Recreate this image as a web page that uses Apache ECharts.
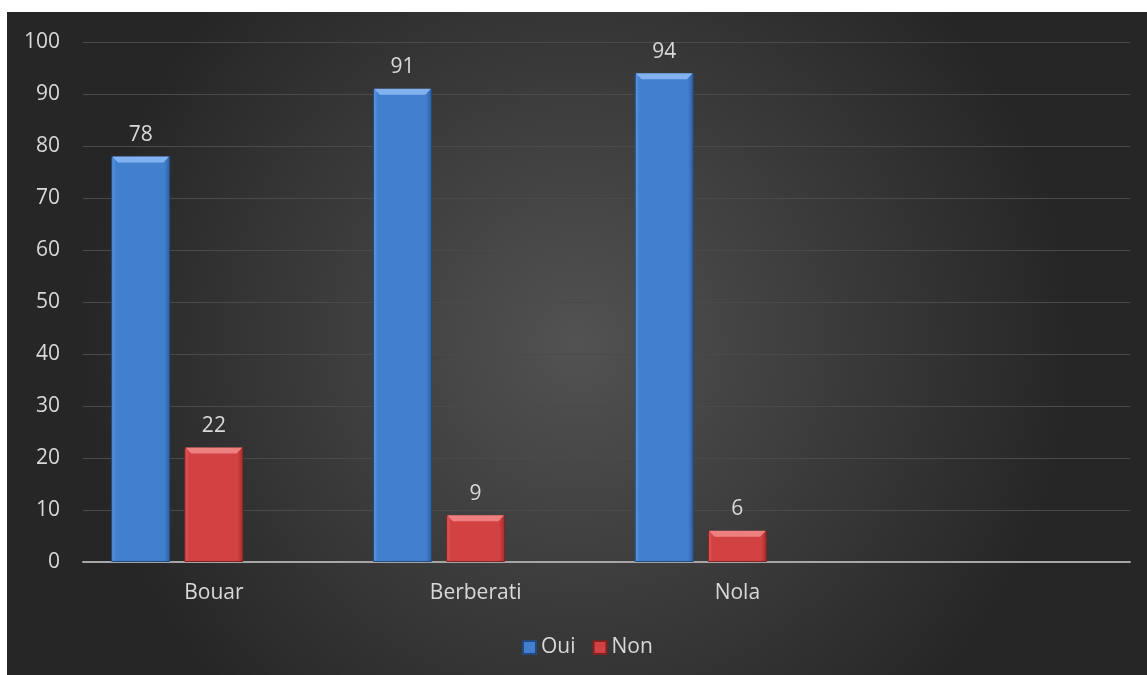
<!DOCTYPE html>
<html>
<head>
<meta charset="utf-8">
<style>
  html, body { margin: 0; padding: 0; background: #ffffff; }
  #chart { width: 1147px; height: 675px; }
</style>
<script src="https://cdn.jsdelivr.net/npm/echarts@6/dist/echarts.min.js"></script>
</head>
<body>
<div id="chart"></div>
<script>
// Survey answers per town (percent)
const categories = ['Bouar', 'Berberati', 'Nola', ''];
const oui = [78, 91, 94, null];
const non = [22, 9, 6, null];
const spare = [null, null, null, null]; // third, unused slot of each group
const yTicks = { min: 0, max: 100, interval: 10 };

const FONT = 'Open Sans';
const TEXT = '#d9d9d9';
const SIZE = 21;
const BAR_W = 59;
const GAP = '24%';

function bevelFill(light, mid, dark) {
  return {
    type: 'linear', x: 0, y: 0, x2: 1, y2: 0,
    colorStops: [
      { offset: 0, color: light },
      { offset: 0.08, color: mid },
      { offset: 0.9, color: mid },
      { offset: 1, color: dark }
    ]
  };
}

// light chamfer drawn at the top end of each bar
const bevelTop = 'path://M0,0 L59,0 L53,6 L6,6 Z';

function capSeries(name, data, color) {
  return {
    name: name + ' cap',
    type: 'pictorialBar',
    data: data,
    barWidth: BAR_W,
    barGap: GAP,
    symbol: bevelTop,
    symbolSize: [BAR_W - 2, 6],
    symbolPosition: 'end',
    symbolOffset: [0, 0],
    itemStyle: { color: color },
    silent: true,
    z: 3
  };
}

const chart = echarts.init(document.getElementById('chart'), null, { renderer: 'canvas' });

chart.setOption({
  animation: false,
  textStyle: { fontFamily: FONT },
  graphic: [{
    type: 'rect',
    z: -10,
    silent: true,
    shape: { x: 7, y: 12, width: 1140, height: 663 },
    style: {
      fill: {
        type: 'radial', x: 0.5, y: 0.5, r: 0.75,
        colorStops: [
          { offset: 0, color: '#525252' },
          { offset: 1, color: '#262626' }
        ]
      }
    }
  }],
  grid: { left: 83, right: 17, top: 42, bottom: 113, containLabel: false },
  legend: {
    bottom: 12,
    left: 517,
    itemWidth: 13,
    itemHeight: 13,
    itemGap: 17,
    textStyle: { color: TEXT, fontSize: SIZE, fontFamily: FONT, padding: [0, 0, 0, 0] },
    data: [
      { name: 'Oui', icon: 'rect' },
      { name: 'Non', icon: 'rect' }
    ]
  },
  xAxis: {
    type: 'category',
    data: categories,
    axisLine: { lineStyle: { color: '#a6a6a6', width: 2 } },
    axisTick: { show: false },
    axisLabel: { color: TEXT, fontSize: SIZE, fontFamily: FONT, margin: 21 },
    splitLine: { show: false }
  },
  yAxis: {
    type: 'value',
    min: yTicks.min,
    max: yTicks.max,
    interval: yTicks.interval,
    axisLine: { show: false },
    axisTick: { show: false },
    axisLabel: { color: TEXT, fontSize: SIZE, fontFamily: FONT, margin: 23 },
    splitLine: { lineStyle: { color: '#4a4a4a', width: 1 } }
  },
  series: [
    {
      name: 'Oui',
      type: 'bar',
      data: oui,
      barWidth: BAR_W,
      barGap: GAP,
      itemStyle: {
        color: bevelFill('#5f9ae4', '#4280cf', '#2d5d9c'),
        borderColor: '#24497e',
        borderWidth: 1
      },
      label: { show: true, position: 'top', distance: 11, color: TEXT, fontSize: SIZE, fontFamily: FONT }
    },
    {
      name: 'Non',
      type: 'bar',
      data: non,
      barWidth: BAR_W,
      barGap: GAP,
      itemStyle: {
        color: bevelFill('#e25c5c', '#d24242', '#9e2d2d'),
        borderColor: '#7e2222',
        borderWidth: 1
      },
      label: { show: true, position: 'top', distance: 11, color: TEXT, fontSize: SIZE, fontFamily: FONT }
    },
    {
      name: 'spare',
      type: 'bar',
      data: spare,
      barWidth: BAR_W,
      barGap: GAP
    },
    capSeries('Oui', oui, '#82b3f0'),
    capSeries('Non', non, '#ee8080'),
    capSeries('spare', spare, 'rgba(0,0,0,0)')
  ]
});
</script>
</body>
</html>
